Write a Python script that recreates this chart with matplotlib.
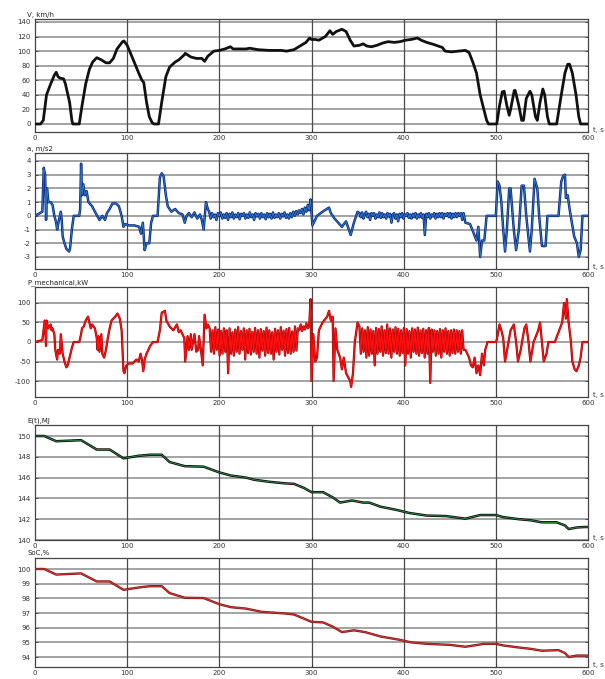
import numpy as np
import matplotlib
matplotlib.use("Agg")
import matplotlib.pyplot as plt

plt.rcParams["axes.unicode_minus"] = False

# ---------------- data ----------------
v_t = [0, 6, 9, 12.5, 17, 21, 23, 25, 27, 31, 33, 37.5, 40, 41, 48, 51, 55, 59, 62.5, 67, 72, 77, 81,
       85, 89, 95, 96.5, 100, 106, 112.5, 116, 118, 121, 124, 127, 129, 134, 137.5, 142, 146, 152, 156,
       162, 163, 169, 175, 181, 184, 187.5, 194, 200, 206, 212, 215, 229, 233, 242, 254, 267, 273, 281,
       287.5, 294, 298, 300, 304, 308, 315, 320, 323, 327, 333, 337.5, 342, 346, 352, 356, 360, 365, 371,
       377, 383, 390, 396, 402, 408, 415, 419, 425, 433, 442, 445, 452, 460, 467, 471, 475, 479, 483, 487,
       490, 492, 501, 504, 507, 509, 512, 514.5, 516, 520, 521, 525, 528, 530, 533, 537, 539, 543, 545,
       548, 551, 553, 556, 558, 566, 571, 575, 578, 580, 583, 587, 590, 592, 600]
v_val = [0, 0, 5, 40, 55, 67, 71, 65, 63, 62, 55, 30, 5, 0, 0, 25, 55, 75, 85, 91, 88, 84, 84,
         90, 103, 113, 114, 108, 90, 70, 60, 57, 30, 10, 2, 0, 0, 30, 65, 78, 85, 88,
         95, 97, 92, 90, 90, 86, 93, 100, 101, 103, 106, 103, 103, 104, 102, 101, 101, 100, 102,
         107, 112, 118, 116, 116, 115, 120, 128, 123, 127, 130, 127, 115, 107, 108, 110, 107, 106, 108,
         111, 113, 112, 113, 115, 116, 118, 115, 112, 109, 105, 100, 99, 100, 101, 98, 85, 70, 40, 20,
         5, 0, 0, 25, 44, 45, 25, 12, 20, 46, 46, 25, 5, 5, 35, 45, 40, 10, 5,
         30, 48, 40, 10, 0, 0, 40, 70, 82, 82, 70, 40, 10, 0, 0]

a_t1 = [0, 8, 9.5, 11, 12, 13, 14.5, 17, 19, 21, 23, 24, 26, 28, 29, 30, 32, 34, 37, 38, 40, 42, 48, 49,
        50, 51, 52.5, 54, 56, 58, 62, 65, 67.5, 70, 73, 76, 78, 81, 84, 88, 91, 94, 96, 98, 102, 108, 113,
        115, 117, 119, 121, 124, 126, 128, 133, 135.5, 137.5, 139.5, 142, 144, 148, 152, 156, 160, 162.5,
        164.5, 167, 170, 173, 176, 179, 181, 183, 185.5, 187.5]
a_v1 = [0, 0.3, 3.5, 3.0, -0.3, 2.0, 1.0, 1.0, 0.8, 0, -0.5, -1.0, -0.3, 0.3, -0.3, -1.5, -2.0, -2.4, -2.6,
        -2.4, -1.0, 0, 0, 0.5, 3.8, 1.5, 2.3, 1.5, 1.8, 1.0, 0.7, 0.3, 0, -0.3, 0, -0.3, 0.2, 0.5, 0.9, 0.9,
        0.7, 0, -0.8, -0.6, -0.7, -0.7, -0.8, -1.3, -0.5, -2.5, -2.0, -2.0, -0.5, 0, 0, 2.8, 3.1, 2.9, 1.5,
        0.7, 0.3, 0.5, 0.2, 0.1, -0.5, 0, 0.2, -0.1, 0.25, -0.2, 0.1, -0.3, -1.0, 1.0, 0.5]
a_noise1 = [0.3, -0.2, 0.2, -0.1, 0.1, -0.3, 0.2, 0.0, 0.25, -0.2, 0.1, -0.15, 0.2, -0.3, 0.15, -0.1, 0.25,
            -0.2, 0.1, -0.1, 0.2, -0.25, 0.15, 0.0, 0.2, -0.2, 0.1, -0.15, 0.25, -0.1, 0.1, -0.3, 0.2, -0.05,
            0.15, -0.2, 0.2, -0.1, 0.1, -0.25, 0.2, -0.1, 0.15, -0.2, 0.25, -0.15, 0.1, -0.1, 0.2, -0.2, 0.15,
            -0.05, 0.25, -0.15, 0.1, -0.2, 0.2, -0.1, 0.3, 0.0, 0.35, 0.1, 0.4, 0.2, 0.5, 0.1, 0.6, 0.3, 0.8, 0.4]
a_t2 = [299, 301, 306, 312, 319, 321, 325, 329, 333, 337.5, 342.5, 346, 350]
a_v2 = [1.2, -0.7, 0, 0.3, 0.6, 0.2, -0.2, -0.5, -0.8, -0.4, -1.4, -0.5, 0.3]
a_noise2 = [0.2, -0.1, 0.25, -0.2, 0.1, 0.3, -0.1, 0.15, -0.3, 0.2, 0.0, 0.2, -0.2, 0.1, -0.1, 0.25, -0.15,
            0.2, -0.1, 0.1, -0.2, 0.2, -0.05, 0.15, -0.5, 0.1, 0.2, -0.2, 0.1, -0.4, 0.15, -0.1, 0.2, -0.2,
            0.1, 0.0, 0.2, -0.15, 0.1, -0.2, 0.15, -0.1, 0.2, -0.2, 0.1, -0.1, 0.2, -0.15, 0.1, -1.4, 0.15,
            -0.1, 0.2, -0.2, 0.1, -0.05, 0.2, -0.2, 0.15, -0.1, 0.2, -0.1, 0.2, -0.2, 0.15, 0.0, 0.2, -0.1,
            0.2, -0.2, 0.15, -0.1, 0.2, -0.1, 0.2, 0.0, 0.2, -0.3, 0.2]
a_t3 = [467, 472, 475, 479, 481, 483, 485, 487.5, 490, 500, 502, 504, 506, 508, 510, 512, 514.5, 516,
        519.5, 522, 525, 528, 530.5, 533, 537, 539, 542, 545, 547, 550, 554, 556, 568, 571, 573, 575, 576,
        578, 580, 582, 585, 588, 590, 592, 594, 600]
a_v3 = [-0.5, -0.6, -1.1, -1.8, -0.8, -3.0, -1.8, -1.8, 0, 0, 2.5, 2.2, 1.0, -1.0, -2.6, -1.0, 2.0, 2.0,
        -1.0, -2.5, -1.0, 2.2, 2.2, 0, -2.6, -1.0, 2.7, 2.0, 0, -2.2, -2.2, 0, 0, 2.5, 2.9, 3.0, 1.3,
        1.5, 0.5, -0.3, -1.5, -2.0, -3.0, -2.5, 0, 0]

p_t1 = [0, 8, 10.5, 12, 12.5, 14.5, 17, 18, 19, 21, 22, 24, 25, 27, 28, 30, 32, 34, 35.5, 37.5, 40, 42,
        48, 50, 51, 53, 55, 57.5, 59, 60.5, 62, 65, 67, 68, 69, 70, 72, 73, 75, 77, 79, 81, 83, 87, 89.5,
        92, 94, 96, 97, 99, 102, 106, 110, 112.5, 114.5, 116, 117.5, 119, 121, 125, 128, 133, 135.5,
        137.5, 141, 142.5, 146, 150, 154, 156, 158, 162, 163, 165.5, 167, 169, 170, 173, 175, 177, 178,
        180, 182, 184, 186, 187.5]
p_v1 = [0, 5, 55, -10, 55, 35, 45, 30, 35, 20, -20, -45, -20, -30, 20, -30, -50, -65, -60, -40, -15, 0,
        0, 20, 35, 40, 55, 65, 50, 35, 45, 35, 10, -20, 15, -25, 20, -30, -40, -20, 10, 35, 55, 65, 73,
        60, 30, -75, -80, -60, -55, -55, -45, -50, -30, -45, -75, -45, -30, -10, 0, 0, 30,
        75, 80, 55, 40, 30, 45, 25, 30, 10, -50, 15, -20, 20, -20, 20, -25, -20, 15,
        -20, -60, 70, 35, 45]
p_dense1 = [35, -25, 30, -30, 38, -20, 32, -35, 28, -30, 35, -25, 30, -80, 35, -30, 25, -35, 32, -25, 38,
            -30, 28, -20, 35, -45, 30, -28, 34, -32, 26, -25, 36, -30, 30, -40, 33, -22, 28, -35, 37, -28,
            30, -30, 25, -45, 34, -25, 30, -32, 38, -20, 29, -35, 33, -28, 36, -30, 27, -25, 40, -22, 35,
            30, 45, 28, 40, 32, 48, 35, 42]
p_t2 = [299, 300, 302, 304, 306, 308, 312, 317, 319, 321, 323, 324, 326, 328, 331, 333, 335, 337.5, 342,
        343, 345, 347, 350]
p_v2 = [110, -100, 20, -50, -40, 30, 50, 65, 80, 55, 65, -100, 35, -20, -40, -70, -40, -80, -100,
        -115, -80, 0, 50]
p_dense2 = [40, -30, 35, -25, 30, -40, 38, -35, 32, -30, 28, -60, 36, -30, 33, -25, 40, -35, 30, -28, 45,
            -30, 35, -40, 32, -25, 38, -30, 34, -35, 30, -28, 36, -60, 33, -30, 28, -40, 35, -25, 32, -30,
            37, -35, 30, -28, 34, -40, 30, -30, 36, -105, 32, -25, 30, -35, 28, -30, 33, -40, 30, -25, 35,
            -30, 28, -35, 30, -28, 32, -30, 30, -25, 28, -30, 30, -20]
p_t3 = [467, 471, 473, 475, 477, 479, 481, 483, 485, 487, 488.5, 491, 500, 501, 504, 506, 508, 510, 513,
        516, 519.5, 522, 524, 527, 531, 533, 535.5, 537.5, 541, 546, 548, 550, 552, 555, 557, 564, 568,
        572, 574, 576, 577, 579, 581.5, 583, 585.5, 587.5, 590, 592, 594, 600]
p_v3 = [-20, -40, -60, -65, -40, -80, -60, -85, -30, -60, -20, 0, 0, 5, 45, 30, 10, -50, -10,
        30, 45, 0, -50, -20, 35, 45, 0, -50, 0, 30, 50, 0, -50, -30, 0, 0, 25,
        50, 100, 60, 110, 50, 0, -50, -70, -75, -60, -40, 0, 0]

e_t = [0, 10, 23, 50, 67, 81, 96, 112.5, 125, 137.5, 146, 162.5, 183, 200, 212.5, 229, 237.5, 254, 271,
       281, 292, 300, 312.5, 323, 331, 344, 356, 362.5, 375, 392, 406, 425, 446, 467, 483, 500, 508, 525,
       537.5, 550, 566, 575, 579, 587.5, 596, 600]
e_val = [150.0, 150.0, 149.5, 149.6, 148.7, 148.7, 147.85, 148.1, 148.2, 148.2, 147.5, 147.1, 147.05,
         146.5, 146.2, 146.0, 145.8, 145.6, 145.45, 145.4, 145.0, 144.6, 144.6, 144.1, 143.6, 143.8,
         143.6, 143.6, 143.2, 142.9, 142.6, 142.35, 142.3, 142.05, 142.4, 142.4, 142.2, 142.0, 141.9,
         141.7, 141.7, 141.4, 141.05, 141.2, 141.25, 141.25]

soc_t = [0, 10, 23, 50, 67, 81, 96, 112.5, 125, 137.5, 146, 162.5, 183, 200, 212.5, 229, 246, 271, 281,
         300, 312.5, 323, 333, 346, 358, 375, 396, 408, 425, 450, 467, 487.5, 500, 508, 525, 537.5, 550,
         568, 575, 579, 587.5, 596, 600]
soc_val = [100.0, 100.0, 99.62, 99.7, 99.15, 99.15, 98.58, 98.74, 98.83, 98.83, 98.36, 98.04, 98.02,
           97.6, 97.4, 97.3, 97.08, 96.97, 96.9, 96.4, 96.36, 96.07, 95.7, 95.82, 95.7, 95.4, 95.17, 95.0,
           94.9, 94.83, 94.7, 94.9, 94.9, 94.79, 94.65, 94.56, 94.43, 94.47, 94.27, 94.0, 94.1, 94.1, 94.1]

titles = ["V, km/h", "a, m/s2", "P_mechanical,kW", "E(t),MJ", "SoC,%"]
x_ticks = [0, 100, 200, 300, 400, 500, 600]
y_ticks = [list(range(0, 141, 20)), list(range(-3, 5)), [-100, -50, 0, 50, 100],
           list(range(140, 151, 2)), list(range(94, 101))]

# ---------------- assemble series ----------------
a_t = a_t1 + list(np.linspace(189, 297.5, len(a_noise1))) + a_t2 + list(np.linspace(352, 465, len(a_noise2))) + a_t3
a_val = a_v1 + a_noise1 + a_v2 + a_noise2 + a_v3
p_t = p_t1 + list(np.linspace(189.5, 297.5, len(p_dense1))) + p_t2 + list(np.linspace(352, 465, len(p_dense2))) + p_t3
p_val = p_v1 + p_dense1 + p_v2 + p_dense2 + p_v3

# ---------------- figure ----------------
W, H = 605, 679
fig = plt.figure(figsize=(W / 100, H / 100), dpi=100)
fig.patch.set_facecolor("white")

# (top_px, bottom_px, ylim)
panels = [(19, 132, (-11.0, 144.1)),
          (153, 269, (-3.875, 4.58)),
          (287, 397, (-141, 141)),
          (425, 540, (140, 151.06)),
          (558, 667, (93.32, 100.75))]
left_px, right_px = 35, 588

axes = []
for (top, bot, yl) in panels:
    ax = fig.add_axes([left_px / W, (H - bot) / H, (right_px - left_px) / W, (bot - top) / H])
    ax.set_xlim(0, 600)
    ax.set_ylim(*yl)
    axes.append(ax)

def style(i, ax, yt, title):
    top, bot, _ = panels[i]
    ax.set_xticks(x_ticks)
    ax.set_yticks(yt)
    ax.grid(False)
    for y in yt:
        ax.axhline(y, color="#8a8a8a", lw=1.1, zorder=0)
    for x in x_ticks[1:-1]:
        ax.axvline(x, color="#4a4a4a", lw=0.9, zorder=0)
    for s in ax.spines.values():
        s.set_color("#444444")
        s.set_linewidth(0.9)
    ax.tick_params(axis="both", direction="in", length=2, width=0.5, labelsize=5,
                   colors="#333333", pad=3, right=True, top=False)
    ax.tick_params(axis="x", pad=2)
    fig.text(27 / W, 1 - (top - 4.5) / H, title, fontsize=5, color="#222222",
             ha="left", va="center")
    fig.text(593 / W, 1 - (bot - 2) / H, "t, s", fontsize=5,
             color="#333333", ha="left", va="center")

# V
axes[0].plot(v_t, v_val, color="#111111", lw=2.0, zorder=3)
# a
axes[1].plot(a_t, a_val, color="#0d2f80", lw=1.8, zorder=3)
axes[1].plot(a_t, a_val, color="#3a86d6", lw=0.5, zorder=4)
# P
axes[2].plot(p_t, p_val, color="#9a0000", lw=1.6, zorder=3)
axes[2].plot(p_t, p_val, color="#ff1010", lw=0.9, zorder=4)
# E
axes[3].plot(e_t, e_val, color="#111111", lw=1.8, zorder=3)
axes[3].plot(e_t, e_val, color="#2fa050", lw=0.5, zorder=4)
# SoC
axes[4].plot(soc_t, soc_val, color="#8b1515", lw=1.7, zorder=3)
axes[4].plot(soc_t, soc_val, color="#c84040", lw=0.6, zorder=4)

for i, ax in enumerate(axes):
    style(i, ax, y_ticks[i], titles[i])

fig.savefig("out.png", dpi=100, facecolor="white")
